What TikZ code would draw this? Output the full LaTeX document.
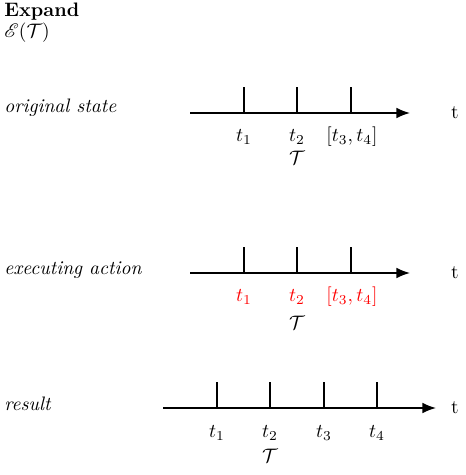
\documentclass[tikz,border=0pt]{standalone}
\usepackage{mathrsfs}
\usetikzlibrary{arrows.meta,positioning}

\begin{document}
\begin{tikzpicture}[x=0.513pt,y=-0.513pt,>={Latex[length=7pt,width=5.5pt]},every node/.style={font=\normalsize}]
\useasboundingbox (0,0) rectangle (465,475);
% heading
\node[anchor=west,inner sep=0] (head) at (4,12) {\textbf{Expand}};
\node[anchor=west,inner sep=0] (expr) at (4,33) {$\mathscr{E}(\mathcal{T})$};
% original state
\node[anchor=west,inner sep=0] (lo) at (4,108) {\textit{original state}};
\coordinate (os) at (190,113);
\coordinate (oe) at (410,113);
\node (ot) at (455,113) {t};
\draw[->,thick] (os) -- (oe);
\coordinate (oa) at (244,113); \coordinate (oa') at (244,87);
\coordinate (ob) at (297,113); \coordinate (ob') at (297,87);
\coordinate (oc) at (351,113); \coordinate (oc') at (351,87);
\draw[thick] (oa) -- (oa');
\draw[thick] (ob) -- (ob');
\draw[thick] (oc) -- (oc');
\node (o1) at (244,137) {$t_1$};
\node (o2) at (297,137) {$t_2$};
\node (o3) at (352,137) {$[t_3,t_4]$};
\node (oT) at (297,158) {$\mathcal{T}$};
% executing action
\node[anchor=west,inner sep=0] (le) at (4,270) {\textit{executing action}};
\coordinate (es) at (190,273);
\coordinate (ee) at (410,273);
\node (et) at (455,273) {t};
\draw[->,thick] (es) -- (ee);
\coordinate (ea) at (244,273); \coordinate (ea') at (244,247);
\coordinate (eb) at (297,273); \coordinate (eb') at (297,247);
\coordinate (ec) at (351,273); \coordinate (ec') at (351,247);
\draw[thick] (ea) -- (ea');
\draw[thick] (eb) -- (eb');
\draw[thick] (ec) -- (ec');
\node[text=red] (e1) at (244,297) {$t_1$};
\node[text=red] (e2) at (297,297) {$t_2$};
\node[text=red] (e3) at (352,297) {$[t_3,t_4]$};
\node (eT) at (297,323) {$\mathcal{T}$};
% result
\node[anchor=west,inner sep=0] (lr) at (4,404) {\textit{result}};
\coordinate (rs) at (163,408);
\coordinate (re) at (436,408);
\node (rt) at (455,408) {t};
\draw[->,thick] (rs) -- (re);
\coordinate (ra) at (217,408); \coordinate (ra') at (217,382);
\coordinate (rb) at (270,408); \coordinate (rb') at (270,382);
\coordinate (rc) at (324,408); \coordinate (rc') at (324,382);
\coordinate (rd) at (377,408); \coordinate (rd') at (377,382);
\draw[thick] (ra) -- (ra');
\draw[thick] (rb) -- (rb');
\draw[thick] (rc) -- (rc');
\draw[thick] (rd) -- (rd');
\node (r1) at (217,433) {$t_1$};
\node (r2) at (270,433) {$t_2$};
\node (r3) at (324,433) {$t_3$};
\node (r4) at (377,433) {$t_4$};
\node (rT) at (270,456) {$\mathcal{T}$};
\end{tikzpicture}
\end{document}
